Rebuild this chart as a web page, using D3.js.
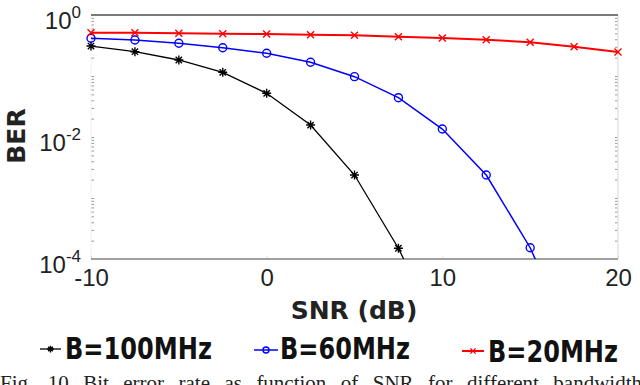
<!DOCTYPE html>
<html>
<head>
<meta charset="utf-8">
<script src="https://cdn.jsdelivr.net/npm/d3@7"></script>
<style>
  body { margin: 0; background: #fff; }
  svg { display: block; }
</style>
</head>
<body>
<div id="chart"></div>
<script>
// data
const snr = [-10, -7.5, -5, -2.5, 0, 2.5, 5, 7.5, 10, 12.5, 15, 17.5, 20];
const ber100 = [0.310, 0.250, 0.183, 0.115, 0.052, 0.0157, 0.00238, 1.5e-4, 5e-6];
const ber60 = [0.415, 0.389, 0.344, 0.291, 0.236, 0.168, 0.0975, 0.0441, 0.0135, 0.00238, 1.53e-4, 3.8e-6];
const ber20 = [0.513, 0.513, 0.501, 0.493, 0.488, 0.475, 0.465, 0.441, 0.420, 0.394, 0.357, 0.302, 0.247];
const seriesNames = ["B=100MHz", "B=60MHz", "B=20MHz"];
const xTicks = [-10, 0, 10, 20];
const yTickExp = [0, -2, -4];
const caption = "Fig. 10 Bit error rate as function of SNR for different bandwidth";

const W = 640, H = 385;
const svg = d3.select("#chart").append("svg")
  .attr("width", W).attr("height", H)
  .style("font-family", "'DejaVu Sans', sans-serif");

const x = d3.scaleLinear().domain([-10, 20]).range([91, 618]);
const y = d3.scaleLog().domain([1e-4, 1]).range([259, 15]);

svg.append("clipPath").attr("id", "plotclip")
  .append("rect").attr("x", 80).attr("y", 0).attr("width", 560).attr("height", 259);

// minor y ticks
const minor = [];
for (let e = -4; e < 0; e++) for (let m = 2; m <= 9; m++) minor.push(m * Math.pow(10, e));
yTickExp.forEach(e => minor.push(Math.pow(10, e)));
minor.push(0.1, 0.001);

const yMinorL = svg.append("g").attr("transform", "translate(91,0)")
  .call(d3.axisLeft(y).tickValues(minor).tickSize(-3).tickFormat(""));
const yMinorR = svg.append("g").attr("transform", "translate(618,0)")
  .call(d3.axisRight(y).tickValues(minor).tickSize(-3).tickFormat(""));
[yMinorL, yMinorR].forEach(g => {
  g.select(".domain").remove();
  g.selectAll("line").attr("stroke", "#999").attr("stroke-width", 1);
});

// right & left frame lines (very light)
svg.append("line").attr("x1", 618).attr("x2", 618).attr("y1", 15).attr("y2", 259)
  .attr("stroke", "#e4e4e4").attr("stroke-width", 1.5);
svg.append("line").attr("x1", 91).attr("x2", 91).attr("y1", 15).attr("y2", 259)
  .attr("stroke", "#f2f2f2").attr("stroke-width", 1);

// y tick labels 10^n
const yAx = svg.append("g").attr("transform", "translate(91,0)")
  .call(d3.axisLeft(y).tickValues(yTickExp.map(e => Math.pow(10, e))).tickSize(0).tickPadding(10).tickFormat(""));
yAx.select(".domain").remove();
yAx.selectAll(".tick text")
  .attr("fill", "#222").style("font-size", "24px").attr("dy", "0.55em")
  .each(function (d) {
    const t = d3.select(this);
    t.append("tspan").text("10");
    t.append("tspan").attr("dy", "-0.62em").style("font-size", "17px").text(Math.round(Math.log10(d)));
  });

// x axis
const xAx = svg.append("g").attr("transform", "translate(0,259)")
  .call(d3.axisBottom(x).tickValues(xTicks).tickSize(-3).tickPadding(10).tickFormat(d => String(d)));
xAx.select(".domain").remove();
xAx.selectAll("line").attr("stroke", "#ddd");
xAx.selectAll("text").attr("fill", "#222").style("font-size", "24px").attr("dy", "0.72em");

// top and bottom frame lines
svg.append("line").attr("x1", 91).attr("x2", 618).attr("y1", 15).attr("y2", 15)
  .attr("stroke", "#7a7a7a").attr("stroke-width", 2);
svg.append("line").attr("x1", 91).attr("x2", 618).attr("y1", 259).attr("y2", 259)
  .attr("stroke", "#a0a0a0").attr("stroke-width", 2);

// axis titles
svg.append("text").attr("x", 354).attr("y", 319).attr("text-anchor", "middle")
  .style("font-size", "25px").style("font-weight", "bold").attr("fill", "#222").text("SNR (dB)");
svg.append("text").attr("transform", "translate(25,136) rotate(-90)").attr("text-anchor", "middle")
  .style("font-size", "25px").style("font-weight", "bold").attr("fill", "#222").text("BER");

// marker shapes
function marker(g, kind, color, r) {
  if (kind === "star") {
    g.append("path").attr("d", `M${-r},0H${r}M0,${-r}V${r}M${-r * 0.7},${-r * 0.7}L${r * 0.7},${r * 0.7}M${-r * 0.7},${r * 0.7}L${r * 0.7},${-r * 0.7}`)
      .attr("stroke", color).attr("stroke-width", 1.4).attr("fill", "none");
  } else if (kind === "circle") {
    g.append("circle").attr("r", r).attr("stroke", color).attr("stroke-width", 1.4).attr("fill", "none");
  } else {
    g.append("path").attr("d", `M${-r},${-r}L${r},${r}M${-r},${r}L${r},${-r}`)
      .attr("stroke", color).attr("stroke-width", 1.4).attr("fill", "none");
  }
}

const series = [
  { name: seriesNames[0], vals: ber100, color: "#000", kind: "star", r: 4.5, w: 1.3 },
  { name: seriesNames[1], vals: ber60, color: "#0000ff", kind: "circle", r: 4, w: 1.5 },
  { name: seriesNames[2], vals: ber20, color: "#ff0000", kind: "x", r: 3.5, w: 2 }
];

const line = d3.line().x(d => x(d[0])).y(d => y(d[1]));
const plot = svg.append("g").attr("clip-path", "url(#plotclip)");
series.forEach(s => {
  const pts = s.vals.map((v, i) => [snr[i], v]);
  plot.append("path").datum(pts).attr("d", line)
    .attr("fill", "none").attr("stroke", s.color).attr("stroke-width", s.w);
  svg.append("g").selectAll("g").data(pts.filter(p => p[1] >= 1e-4)).enter().append("g")
    .attr("transform", p => `translate(${x(p[0])},${y(p[1])})`)
    .each(function () { marker(d3.select(this), s.kind, s.color, s.r); });
});

// legend
const legendPos = [
  { x0: 40, x1: 61, ly: 349, tx: 65, tw: 147, ty: 359 },
  { x0: 254, x1: 278, ly: 350, tx: 280, tw: 130, ty: 359 },
  { x0: 462, x1: 484, ly: 351, tx: 488, tw: 130, ty: 362 }
];
series.forEach((s, i) => {
  const p = legendPos[i];
  const g = svg.append("g");
  g.append("line").attr("x1", p.x0).attr("x2", p.x1).attr("y1", p.ly).attr("y2", p.ly)
    .attr("stroke", s.color).attr("stroke-width", s.w);
  const m = g.append("g").attr("transform", `translate(${(p.x0 + p.x1) / 2},${p.ly})`);
  marker(m, s.kind, s.color, s.r * 0.75);
  g.append("text").attr("x", p.tx).attr("y", p.ty)
    .attr("textLength", p.tw).attr("lengthAdjust", "spacingAndGlyphs")
    .style("font-size", "30px").style("font-weight", "bold").attr("fill", "#111").text(s.name);
});

// caption (cut at the bottom edge)
const cap = svg.append("text").attr("x", 0).attr("y", 390)
  .style("font-family", "'Liberation Serif', serif").style("font-size", "21px")
  .attr("fill", "#222").text(caption);
const len = cap.node().getComputedTextLength();
const gaps = caption.split(" ").length - 1;
cap.attr("word-spacing", (642 - len) / gaps);
</script>
</body>
</html>
